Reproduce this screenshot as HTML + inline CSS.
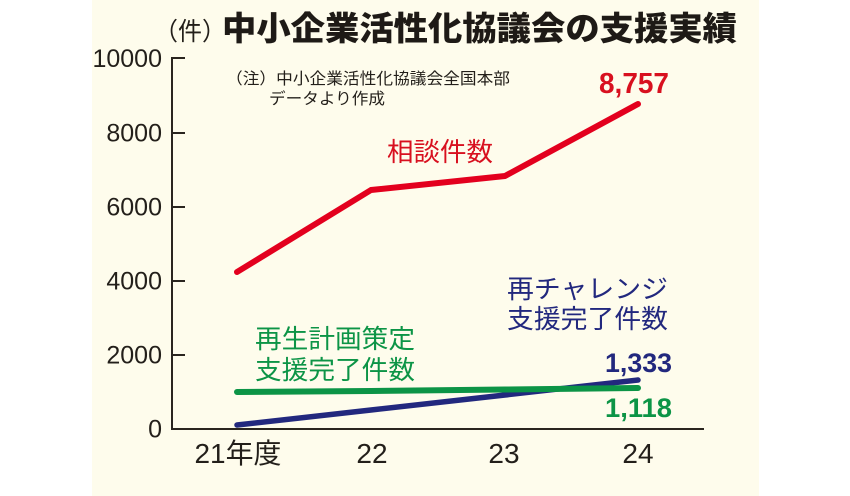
<!DOCTYPE html>
<html><head><meta charset="utf-8"><style>
html,body{margin:0;padding:0;background:#fff;}
svg{display:block;}
text{font-family:"Liberation Sans","Noto Sans CJK JP",sans-serif;}
.cjk{font-family:"Noto Sans CJK JP","Liberation Sans",sans-serif;}
</style></head><body>
<svg width="850" height="496" viewBox="0 0 850 496" xmlns="http://www.w3.org/2000/svg">
<rect x="0" y="0" width="850" height="496" fill="#ffffff"/>
<rect x="92" y="0" width="667" height="496" fill="#fefcec"/>

<!-- title -->
<text x="154" y="40" font-size="25" fill="#231f1a" class="cjk" textLength="72" lengthAdjust="spacingAndGlyphs">（件）</text>
<text x="222" y="40" font-size="33" font-weight="900" fill="#1e1a16" class="cjk" textLength="515" lengthAdjust="spacingAndGlyphs">中小企業活性化協議会の支援実績</text>

<!-- note -->
<text x="226" y="84" font-size="16" fill="#231f1a" class="cjk" textLength="284" lengthAdjust="spacingAndGlyphs">（注）中小企業活性化協議会全国本部</text>
<text x="269" y="104" font-size="16" fill="#231f1a" class="cjk" textLength="116" lengthAdjust="spacingAndGlyphs">データより作成</text>

<!-- axes -->
<g stroke="#2a251f" stroke-width="2" fill="none">
<path d="M172,430 L172,58 L185,58"/>
<line x1="171" y1="429" x2="704" y2="429"/>
<line x1="172" y1="133" x2="185" y2="133"/>
<line x1="172" y1="207" x2="185" y2="207"/>
<line x1="172" y1="281" x2="185" y2="281"/>
<line x1="172" y1="355" x2="185" y2="355"/>
</g>

<g font-size="25" fill="#231f1a" text-anchor="end">
<text x="162" y="67">10000</text>
<text x="162" y="141.5">8000</text>
<text x="162" y="215.5">6000</text>
<text x="162" y="289.5">4000</text>
<text x="162" y="363.5">2000</text>
<text x="162" y="437.5">0</text>
</g>

<g font-size="28" fill="#231f1a" text-anchor="middle">
<text x="238" y="463" textLength="87" lengthAdjust="spacingAndGlyphs">21年度</text>
<text x="372" y="463">22</text>
<text x="504" y="463">23</text>
<text x="638" y="463">24</text>
</g>

<!-- series -->
<polyline points="237,272 371,190 505,176 638,104" fill="none" stroke="#e3001e" stroke-width="6" stroke-linecap="round" stroke-linejoin="round"/>
<polyline points="237,425 371,410 505,395 638,380" fill="none" stroke="#22287e" stroke-width="5.5" stroke-linecap="round" stroke-linejoin="round"/>
<polyline points="237,392 371,391 505,389.5 638,388" fill="none" stroke="#0c9446" stroke-width="6" stroke-linecap="round" stroke-linejoin="round"/>

<!-- series labels -->
<text x="387" y="161" font-size="26" fill="#d8101f" class="cjk" textLength="106" lengthAdjust="spacingAndGlyphs">相談件数</text>
<text x="255" y="348" font-size="26" fill="#0c9446" class="cjk" textLength="160" lengthAdjust="spacingAndGlyphs">再生計画策定</text>
<text x="255" y="379" font-size="26" fill="#0c9446" class="cjk" textLength="160" lengthAdjust="spacingAndGlyphs">支援完了件数</text>
<text x="507" y="298" font-size="26" fill="#22287e" class="cjk" textLength="161" lengthAdjust="spacingAndGlyphs">再チャレンジ</text>
<text x="507" y="328" font-size="26" fill="#22287e" class="cjk" textLength="161" lengthAdjust="spacingAndGlyphs">支援完了件数</text>

<!-- value labels -->
<text x="599" y="93" font-size="29" font-weight="bold" fill="#d8101f" textLength="70" lengthAdjust="spacingAndGlyphs">8,757</text>
<text x="605" y="372" font-size="27" font-weight="bold" fill="#22287e" textLength="67" lengthAdjust="spacingAndGlyphs">1,333</text>
<text x="605" y="417" font-size="27" font-weight="bold" fill="#0c9446" textLength="67" lengthAdjust="spacingAndGlyphs">1,118</text>
</svg>
</body></html>
